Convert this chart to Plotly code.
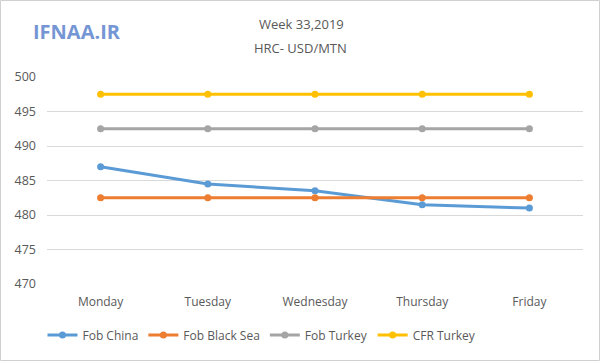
import plotly.graph_objects as go

days = ["Monday", "Tuesday", "Wednesday", "Thursday", "Friday"]
fob_china = [487, 484.5, 483.5, 481.5, 481]
fob_black_sea = [482.5, 482.5, 482.5, 482.5, 482.5]
fob_turkey = [492.5, 492.5, 492.5, 492.5, 492.5]
cfr_turkey = [497.5, 497.5, 497.5, 497.5, 497.5]
y_ticks = [470, 475, 480, 485, 490, 495, 500]

series = [
    ("Fob China", fob_china, "#5B9BD5"),
    ("Fob Black Sea", fob_black_sea, "#ED7D31"),
    ("Fob Turkey", fob_turkey, "#A5A5A5"),
    ("CFR Turkey", cfr_turkey, "#FFC000"),
]

fig = go.Figure()
for name, vals, col in series:
    fig.add_trace(go.Scatter(
        x=days, y=vals, name=name, mode="lines+markers",
        line=dict(color=col, width=3),
        marker=dict(color=col, size=7),
    ))

L, R, T, B = 47, 17, 77, 77
pw = 600 - L - R
ph = 361 - T - B

fig.update_layout(
    width=600, height=361,
    margin=dict(l=L, r=R, t=T, b=B),
    paper_bgcolor="white", plot_bgcolor="white",
    font=dict(family="Open Sans", size=12, color="#595959"),
    showlegend=True,
    legend=dict(orientation="h", x=(262 - L) / pw, xanchor="center", y=-(335 - (361 - B)) / ph,
                yanchor="middle", font=dict(size=12, color="#595959"), itemwidth=30),
    xaxis=dict(range=[-0.5, 4.5], showgrid=False, zeroline=False, showline=False, ticks="",
               ticklabelstandoff=9, tickfont=dict(size=12, color="#595959")),
    yaxis=dict(range=[470, 500], tickvals=y_ticks, showgrid=True, gridcolor="#D9D9D9",
               gridwidth=1, zeroline=False, showline=False, ticks="", ticklabelstandoff=10,
               tickfont=dict(size=12.5, color="#595959")),
    annotations=[
        dict(text="Week 33,2019", xref="paper", yref="paper", x=(301 - L) / pw, y=1 + (T - 24) / ph,
             showarrow=False, xanchor="center", yanchor="middle", font=dict(size=13, color="#595959")),
        dict(text="HRC- USD/MTN", xref="paper", yref="paper", x=(300 - L) / pw, y=1 + (T - 48) / ph,
             showarrow=False, xanchor="center", yanchor="middle", font=dict(size=13, color="#595959")),
        dict(text="<b>IFNAA.IR</b>", xref="paper", yref="paper", x=(77 - L) / pw, y=1 + (T - 32) / ph,
             showarrow=False, xanchor="center", yanchor="middle",
             font=dict(family="Open Sans", size=20, color="#7596D4")),
    ],
    shapes=[
        dict(type="rect", xref="paper", yref="paper",
             x0=(0.5 - L) / pw, x1=(599.5 - L) / pw,
             y0=-(B - 0.5) / ph, y1=1 + (T - 0.5) / ph,
             line=dict(color="#D0D0D0", width=1), fillcolor="rgba(0,0,0,0)", layer="below"),
    ],
)

fig.write_html("out.html", config={"displayModeBar": False},
               post_script="document.body.style.margin='0';")
